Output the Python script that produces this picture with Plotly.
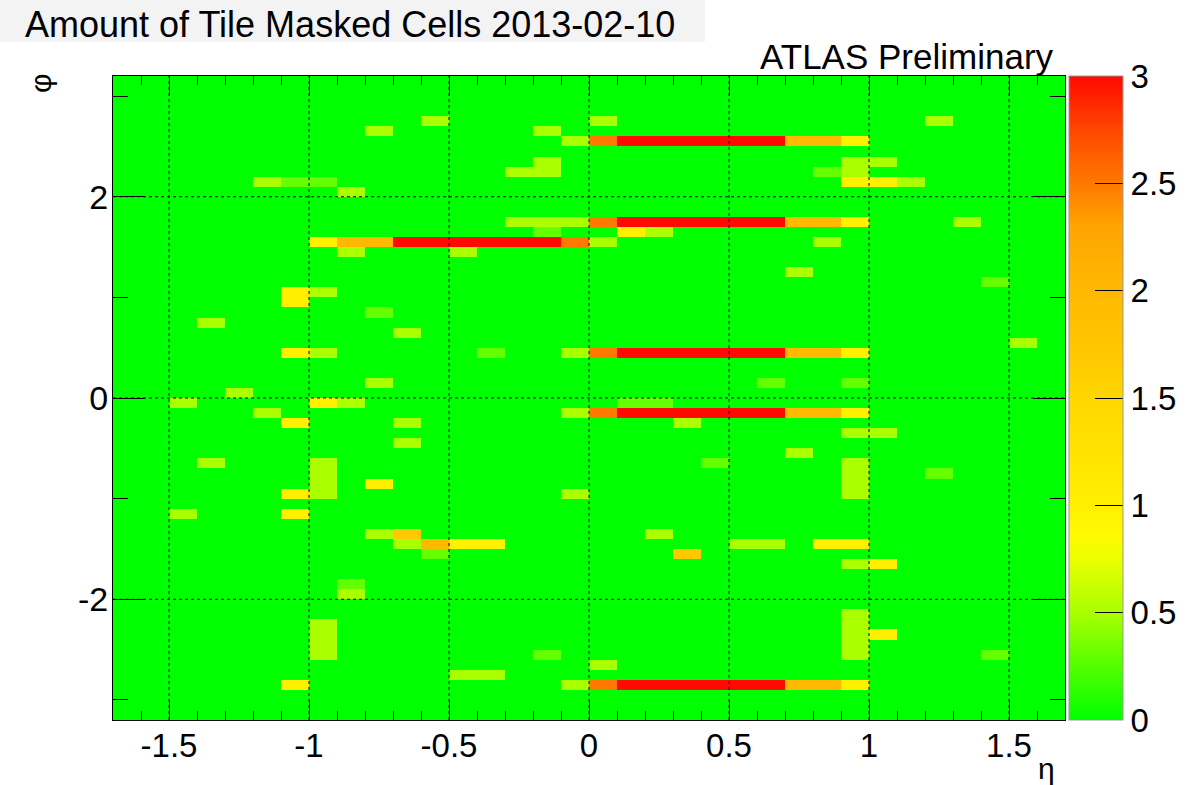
import plotly.graph_objects as go

# ---- axis bins (bin centres) ----
eta_centers = [-1.65, -1.55, -1.45, -1.35, -1.25, -1.15, -1.05, -0.95, -0.85, -0.75,
               -0.65, -0.55, -0.45, -0.35, -0.25, -0.15, -0.05, 0.05, 0.15, 0.25,
               0.35, 0.45, 0.55, 0.65, 0.75, 0.85, 0.95, 1.05, 1.15, 1.25,
               1.35, 1.45, 1.55, 1.65]
phi_centers = [-3.15, -3.05, -2.95, -2.85, -2.75, -2.65, -2.55, -2.45, -2.35, -2.25,
               -2.15, -2.05, -1.95, -1.85, -1.75, -1.65, -1.55, -1.45, -1.35, -1.25,
               -1.15, -1.05, -0.95, -0.85, -0.75, -0.65, -0.55, -0.45, -0.35, -0.25,
               -0.15, -0.05, 0.05, 0.15, 0.25, 0.35, 0.45, 0.55, 0.65, 0.75,
               0.85, 0.95, 1.05, 1.15, 1.25, 1.35, 1.45, 1.55, 1.65, 1.75,
               1.85, 1.95, 2.05, 2.15, 2.25, 2.35, 2.45, 2.55, 2.65, 2.75,
               2.85, 2.95, 3.05, 3.15]

# ---- long masked strips (positive eta side) ----
strip_phi = [2.55, 1.75, 0.45, -0.15, -2.85]
strip_eta = [0.05, 0.15, 0.25, 0.35, 0.45, 0.55, 0.65, 0.75, 0.85, 0.95]
strip_val = [2.5, 3, 3, 3, 3, 3, 3, 2, 2, 1]

# ---- long masked strip (negative eta side) ----
left_strip_phi = 1.55
left_strip_eta = [-0.95, -0.85, -0.75, -0.65, -0.55, -0.45, -0.35, -0.25, -0.15, -0.05, 0.05]
left_strip_val = [1, 2, 2, 3, 3, 3, 3, 3, 3, 2.5, 0.5]

# ---- isolated masked cells ----
cell_eta = [-0.55, -0.75, -1.15, -1.05, -0.95, -0.85, -0.85, -1.05, -0.95,
            0.05, -0.15, -0.05, -0.15, -0.25, -0.15, -0.25, -0.15, -0.05, -0.15, 0.15, 0.25, -0.45,
            1.25, 0.95, 1.05, 0.95, 0.85, 0.95, 1.05, 1.15, 1.35, 0.85, 0.75, 1.45,
            -1.05, -0.75, -1.35, -0.65, -1.05, -0.95, -0.75, -1.25, -1.45, -0.95, -0.85,
            -1.15, -1.05, -0.65, -0.65, -1.35, -0.95, -0.95, -0.95, -0.95, -0.75, -1.05,
            -0.35, -0.05, 0.15, 0.25, -0.05, 0.35, 0.45, -0.05,
            1.55, 0.65, 0.95, 0.95, 1.05, 0.75, 0.95, 0.95, 0.95, 0.95, 1.25,
            -1.45, -1.05, -0.75, -0.65, -0.55, -0.65, -0.55, -0.85, -0.85,
            -0.95, -0.95, -0.95, -0.95, -1.05,
            -0.45, -0.35, 0.25, 0.35, 0.55, 0.65, -0.15, -0.45, -0.35, 0.05, -0.05,
            0.85, 0.95, 0.95, 1.05, 0.95, 0.95, 0.95, 0.95, 0.95, 1.05, 1.45]
cell_phi = [2.75, 2.65, 2.15, 2.15, 2.15, 2.05, 1.45, 1.05, 1.05,
            2.75, 2.65, 2.55, 2.35, 2.25, 2.25, 1.75, 1.75, 1.75, 1.65, 1.65, 1.65, 1.45,
            2.75, 2.35, 2.35, 2.25, 2.25, 2.15, 2.15, 2.15, 1.75, 1.55, 1.25, 1.15,
            0.95, 0.85, 0.75, 0.65, 0.45, 0.45, 0.15, 0.05, -0.05, -0.05, -0.05,
            -0.15, -0.25, -0.25, -0.45, -0.65, -0.65, -0.75, -0.85, -0.95, -0.85, -0.95,
            0.45, 0.45, -0.05, -0.05, -0.15, -0.25, -0.65, -0.95,
            0.55, 0.15, 0.15, -0.35, -0.35, -0.55, -0.65, -0.75, -0.85, -0.95, -0.75,
            -1.15, -1.15, -1.35, -1.35, -1.45, -1.45, -1.55, -1.85, -1.95,
            -2.25, -2.35, -2.45, -2.55, -2.85,
            -1.45, -1.45, -1.35, -1.55, -1.45, -1.45, -2.55, -2.75, -2.75, -2.65, -2.85,
            -1.45, -1.45, -1.65, -1.65, -2.15, -2.25, -2.35, -2.45, -2.55, -2.35, -2.55]
cell_val = [0.5, 0.5, 0.5, 0.3, 0.3, 0.5, 0.5, 1, 0.5,
            0.5, 0.5, 0.5, 0.5, 0.5, 0.5, 0.5, 0.5, 0.5, 0.3, 1, 0.5, 0.5,
            0.5, 0.5, 0.5, 0.5, 0.3, 1, 1, 0.5, 0.5, 0.5, 0.5, 0.3,
            1, 0.3, 0.5, 0.5, 1, 0.5, 0.5, 0.5, 0.5, 1, 0.5,
            0.5, 1, 0.5, 0.5, 0.5, 0.5, 0.5, 0.5, 0.5, 1, 1,
            0.3, 0.5, 0.3, 0.3, 0.5, 0.5, 0.3, 0.5,
            0.5, 0.3, 0.3, 0.5, 0.5, 0.5, 0.5, 0.5, 0.5, 0.5, 0.3,
            0.5, 1, 0.5, 1.7, 2, 0.5, 0.3, 0.3, 0.5,
            0.5, 0.5, 0.5, 0.5, 1,
            1, 1, 0.5, 1.7, 0.5, 0.5, 0.3, 0.5, 0.5, 0.5, 0.5,
            1, 1, 0.5, 1, 0.5, 0.5, 0.5, 0.5, 0.5, 1, 0.3]

# ---- tick labels ----
x_tick_vals = [-1.5, -1, -0.5, 0, 0.5, 1, 1.5]
x_tick_text = ["-1.5", "-1", "-0.5", "0", "0.5", "1", "1.5"]
y_tick_vals = [-2, 0, 2]
y_tick_text = ["-2", "0", "2"]
cb_tick_vals = [0, 0.5, 1, 1.5, 2, 2.5, 3]
cb_tick_text = ["0", "0.5", "1", "1.5", "2", "2.5", "3"]

# ---- build matrix ----
z = [[0.0 for _ in eta_centers] for _ in phi_centers]


def put(eta, phi, val):
    i = min(range(len(eta_centers)), key=lambda k: abs(eta_centers[k] - eta))
    j = min(range(len(phi_centers)), key=lambda k: abs(phi_centers[k] - phi))
    z[j][i] = val


for p in strip_phi:
    for e, v in zip(strip_eta, strip_val):
        put(e, p, v)
for e, v in zip(left_strip_eta, left_strip_val):
    put(e, left_strip_phi, v)
for e, p, v in zip(cell_eta, cell_phi, cell_val):
    put(e, p, v)

colorscale = [
    [0.0, "rgb(0,255,0)"],
    [0.1, "rgb(100,255,0)"],
    [0.167, "rgb(170,255,0)"],
    [0.25, "rgb(235,255,0)"],
    [0.285, "rgb(255,250,0)"],
    [0.333, "rgb(255,240,0)"],
    [0.5, "rgb(255,215,0)"],
    [0.567, "rgb(255,200,0)"],
    [0.667, "rgb(255,185,0)"],
    [0.767, "rgb(255,165,0)"],
    [0.833, "rgb(255,120,0)"],
    [0.917, "rgb(255,70,0)"],
    [1.0, "rgb(255,10,0)"],
]

FONT = "Liberation Sans, Arial, Helvetica, sans-serif"
PW, PH = 952, 644  # plot area in pixels

fig = go.Figure()
fig.add_trace(go.Heatmap(
    x=eta_centers, y=phi_centers, z=z,
    zmin=0, zmax=3, colorscale=colorscale,
    colorbar=dict(
        x=1 + 4 / PW, xanchor="left", xpad=0, ypad=0,
        y=0.5, yanchor="middle", len=1.0, lenmode="fraction",
        thickness=54, thicknessmode="pixels",
        outlinewidth=1, outlinecolor="#999999",
        tickmode="array", tickvals=cb_tick_vals, ticktext=cb_tick_text,
        ticks="inside", ticklen=28, tickcolor="black", tickwidth=1,
        tickfont=dict(family=FONT, size=33, color="black"),
    ),
    hoverongaps=False,
))

# dotted grid drawn above the cells (as in ROOT)
shapes = []
for v in x_tick_vals:
    shapes.append(dict(type="line", xref="x", yref="paper", x0=v, x1=v, y0=0, y1=1,
                       line=dict(color="black", width=1, dash="dot"), layer="above"))
for v in y_tick_vals:
    shapes.append(dict(type="line", xref="paper", yref="y", x0=0, x1=1, y0=v, y1=v,
                       line=dict(color="black", width=1, dash="dot"), layer="above"))
# light title box
shapes.append(dict(type="rect", xref="paper", yref="paper",
                   x0=-113 / PW, x1=(705 - 113) / PW,
                   y0=(720 - 42) / PH, y1=720 / PH,
                   fillcolor="#f3f3f3", line=dict(width=0), layer="below"))

fig.update_layout(
    width=1198, height=785,
    margin=dict(l=113, r=133, t=76, b=65, autoexpand=False),
    paper_bgcolor="white", plot_bgcolor="white",
    font=dict(family=FONT, color="black"),
    shapes=shapes,
    xaxis=dict(
        range=[-1.7, 1.7], tickmode="array", tickvals=x_tick_vals, ticktext=x_tick_text,
        ticks="inside", ticklen=20, tickwidth=1, tickcolor="black",
        minor=dict(tick0=0, dtick=0.1, ticks="inside", ticklen=9, tickcolor="black", showgrid=False),
        showline=True, linecolor="black", linewidth=1, mirror="allticks",
        showgrid=False, zeroline=False, layer="above traces",
        ticklabelstandoff=-4,
        tickfont=dict(family=FONT, size=33, color="black"),
    ),
    yaxis=dict(
        range=[-3.2, 3.2], tickmode="array", tickvals=y_tick_vals, ticktext=y_tick_text,
        ticks="inside", ticklen=32, tickwidth=1, tickcolor="black",
        minor=dict(tick0=1, dtick=2, ticks="inside", ticklen=15, tickcolor="black", showgrid=False),
        showline=True, linecolor="black", linewidth=1, mirror="allticks",
        showgrid=False, zeroline=False, layer="above traces",
        ticklabelstandoff=-3,
        tickfont=dict(family=FONT, size=34, color="black"),
    ),
    title=dict(text="Amount of Tile Masked Cells 2013-02-10",
               x=25 / 1198, xanchor="left", xref="container",
               y=1 - 24 / 785, yanchor="middle", yref="container",
               font=dict(family=FONT, size=36, color="black")),
    annotations=[
        dict(text="ATLAS Preliminary", xref="paper", yref="paper",
             x=(1056 - 113) / PW, xanchor="right", y=(720 - 56) / PH, yanchor="middle",
             showarrow=False, font=dict(family=FONT, size=35, color="black")),
        dict(text="η", xref="paper", yref="paper",
             x=(1046 - 113) / PW, xanchor="center", y=(720 - 768) / PH, yanchor="middle",
             showarrow=False, font=dict(family=FONT, size=30, color="black")),
        dict(text="φ", xref="paper", yref="paper", textangle=-90,
             x=(40 - 113) / PW, xanchor="center", y=(720 - 84) / PH, yanchor="middle",
             showarrow=False, font=dict(family=FONT, size=30, color="black")),
    ],
)

fig.write_html("out.html", config={"displayModeBar": False},
               post_script="document.body.style.margin='0px';")
